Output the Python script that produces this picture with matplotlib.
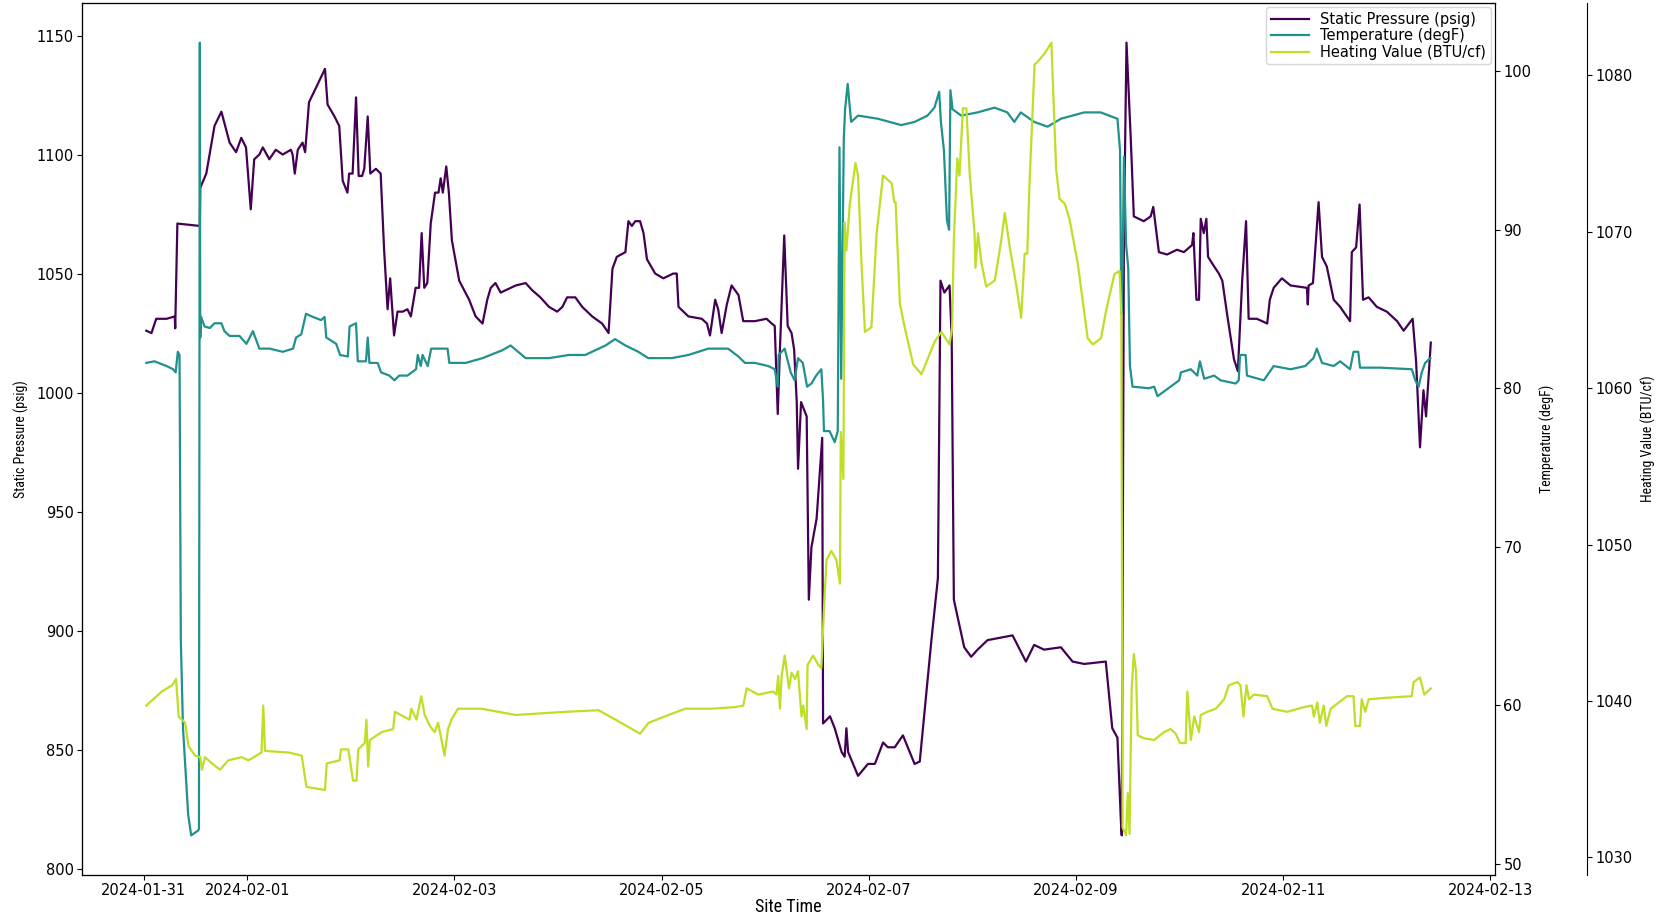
import numpy as np
import pandas as pd
import matplotlib
matplotlib.use("Agg")
import matplotlib.pyplot as plt
from matplotlib import font_manager

# hours after 2024-01-31 00:00 and the readings at those times
p_hours = [0.6, 1.8, 2.9, 5.3, 7.2, 7.3, 7.8, 13.0, 13.1, 14.5, 16.4, 18.0, 19.9, 21.4, 22.6, 23.7,
           24.8, 25.6, 26.8, 27.6, 29.1, 30.6, 32.2, 34.1, 34.5, 35.0, 35.7, 36.8, 37.4, 38.3, 39.9,
           42.0, 42.6, 44.2, 45.3, 46.1, 47.2, 47.6, 48.4, 49.2, 49.8, 50.6, 51.1, 51.9, 52.5, 53.8,
           54.9, 55.7, 56.5, 57.1, 58.0, 58.8, 60.0, 61.1, 61.9, 63.0, 63.8, 64.4, 65.0, 65.7, 66.5,
           67.5, 68.3, 68.8, 69.3, 70.1, 70.7, 71.4, 73.1, 75.4, 76.9, 78.5, 79.6, 80.4, 81.5, 82.7,
           86.2, 88.5, 90.0, 91.9, 93.9, 95.8, 97.0, 98.1, 100.0, 101.6, 103.9, 106.2, 107.7, 108.6,
           109.6, 111.6, 112.3, 113.1, 113.9, 115.0, 115.8, 116.6, 118.5, 120.4, 122.7, 123.5, 123.9,
           126.2, 129.3, 130.5, 131.2, 132.4, 133.1, 133.9, 135.1, 136.2, 137.8, 138.9, 141.6, 144.3,
           145.5, 146.2, 146.9, 147.4, 148.4, 149.2, 150.1, 150.7, 151.3, 151.6, 152.3, 153.6, 154.1,
           154.7, 155.9, 157.2, 157.4, 159.0, 160.1, 161.7, 162.4, 162.8, 163.2, 165.5, 167.8, 169.4,
           171.3, 172.4, 174.0, 175.9, 178.6, 179.8, 182.5, 184.0, 184.6, 185.5, 186.7, 187.2, 187.7,
           190.1, 191.7, 193.2, 195.5, 201.3, 204.4, 206.3, 208.6, 212.5, 215.2, 217.9, 222.9, 224.4,
           225.6, 226.4, 226.6, 227.1, 227.7, 228.7, 229.4, 231.7, 233.3, 233.9, 235.2, 237.1, 239.4,
           241.0, 242.9, 243.2, 243.9, 244.5, 244.9, 245.6, 246.2, 246.6, 248.0, 249.1, 249.9, 251.0,
           252.6, 253.5, 254.5, 255.4, 256.0, 257.9, 260.3, 260.9, 261.8, 263.7, 265.7, 269.5, 269.7,
           269.9, 270.9, 272.2, 273.0, 274.1, 275.7, 277.2, 279.5, 279.9, 280.9, 281.7, 282.5, 283.8,
           285.7, 288.0, 290.4, 291.9, 294.0, 294.8, 295.7, 296.5, 297.1, 298.2]
pressure = [1026, 1025, 1031, 1031, 1032, 1027, 1071, 1070, 1086, 1092, 1112, 1118, 1105, 1101, 1107, 1103,
            1077, 1098, 1100, 1103, 1098, 1102, 1100, 1102, 1100, 1092, 1102, 1105, 1101, 1122, 1128,
            1136, 1121, 1116, 1112, 1089, 1084, 1092, 1092, 1124, 1091, 1091, 1094, 1116, 1092, 1094,
            1092, 1060, 1035, 1048, 1024, 1034, 1034, 1035, 1032, 1044, 1044, 1067, 1044, 1046, 1071,
            1084, 1084, 1090, 1084, 1095, 1084, 1064, 1047, 1039, 1032, 1029, 1039, 1044, 1046, 1042,
            1045, 1046, 1043, 1040, 1036, 1034, 1036, 1040, 1040, 1036, 1032, 1029, 1025, 1052,
            1057, 1059, 1072, 1070, 1072, 1072, 1067, 1056, 1050, 1048, 1050, 1050, 1036,
            1032, 1031, 1029, 1024, 1039, 1035, 1025, 1037, 1045, 1041, 1030, 1030, 1031,
            1029, 1028, 991, 1018, 1066, 1028, 1025, 1018, 996, 968, 996, 990, 913,
            935, 947, 981, 861, 864, 859, 849, 847, 859, 849, 839, 844, 844,
            853, 851, 851, 856, 844, 845, 896, 922, 1047, 1042, 1045, 1023, 913,
            893, 889, 892, 896, 898, 887, 894, 892, 893, 887, 886, 887, 859,
            855, 820, 814, 1067, 1147, 1106, 1074, 1072, 1074, 1078, 1059, 1058, 1060,
            1059, 1062, 1067, 1039, 1039, 1073, 1067, 1073, 1057, 1053, 1050, 1047, 1033,
            1014, 1009, 1047, 1072, 1031, 1031, 1029, 1039, 1044, 1048, 1045, 1044, 1037,
            1045, 1046, 1080, 1057, 1053, 1039, 1036, 1030, 1059, 1061, 1079, 1039, 1040,
            1036, 1034, 1030, 1026, 1031, 1013, 977, 1001, 990, 1021]

t_hours = [0.6, 2.5, 5.3, 6.8, 7.4, 7.9, 8.3, 8.6, 9.1, 10.3, 11.0, 12.6, 12.8, 13.0, 13.1, 13.3, 14.1,
           15.3, 16.4, 18.0, 18.7, 19.9, 22.2, 23.8, 25.3, 26.8, 29.2, 32.2, 34.6, 35.3, 36.5, 37.6,
           39.2, 41.1, 41.9, 42.3, 44.6, 45.5, 47.3, 47.7, 49.2, 49.6, 51.5, 51.9, 52.3, 54.2, 55.0,
           56.9, 58.1, 59.2, 61.1, 63.1, 63.5, 64.2, 64.6, 65.8, 66.6, 68.9, 70.4, 70.8, 74.6, 78.5,
           83.1, 85.0, 88.5, 93.9, 98.5, 102.3, 107.0, 109.2, 111.6, 114.6, 116.9, 122.3, 126.2, 130.8,
           135.4, 137.8, 139.3, 141.6, 144.7, 146.2, 146.9, 147.1, 148.5, 149.9, 150.8, 151.6, 152.7,
           153.7, 154.7, 155.8, 157.0, 157.4, 157.6, 158.9, 160.1, 160.8, 161.2, 161.6, 162.2, 162.5,
           163.1, 163.9, 165.5, 170.1, 175.5, 178.6, 181.6, 183.2, 184.3, 184.7, 185.4, 186.1, 186.6,
           186.9, 187.4, 189.4, 193.2, 197.1, 200.1, 201.7, 203.2, 206.3, 209.4, 212.5, 217.9, 221.7,
           225.6, 226.2, 226.5, 226.8, 227.1, 227.6, 228.1, 228.5, 229.1, 232.9, 234.1, 234.9, 237.9,
           239.9, 240.3, 242.6, 244.1, 244.7, 245.7, 248.0, 249.5, 253.0, 253.7, 254.0, 255.3, 255.6,
           259.5, 261.8, 265.7, 269.1, 271.0, 271.8, 273.0, 275.7, 277.2, 279.5, 280.3, 281.4, 281.8,
           286.5, 293.8, 294.6, 295.4, 296.1, 296.9, 298.1]
temperature = [81.6, 81.7, 81.4, 81.2, 81.0, 82.3, 82.1, 64.1, 58.6, 53.1, 51.8, 52.1, 52.2, 101.8, 83.2, 84.5, 83.9,
               83.8, 84.1, 84.1, 83.6, 83.3, 83.3, 82.8, 83.6, 82.5, 82.5, 82.3, 82.5, 83.2, 83.4, 84.7,
               84.5, 84.3, 84.5, 83.2, 82.8, 82.1, 82.0, 83.9, 84.1, 81.7, 81.7, 83.2, 81.6, 81.6, 81.0,
               80.8, 80.5, 80.8, 80.8, 81.2, 82.1, 81.4, 82.1, 81.4, 82.5, 82.5, 82.5, 81.6, 81.6, 81.9,
               82.4, 82.7, 81.9, 81.9, 82.1, 82.1, 82.7, 83.1, 82.7, 82.3, 81.9, 81.9, 82.1, 82.5,
               82.5, 82.0, 81.6, 81.6, 81.4, 81.2, 80.1, 82.1, 82.5, 81.0, 80.5, 81.9, 81.6,
               80.1, 80.3, 80.8, 81.2, 79.2, 77.3, 77.3, 76.6, 77.3, 95.2, 80.6, 95.7, 97.6,
               99.2, 96.8, 97.2, 97.0, 96.6, 96.8, 97.2, 97.7, 98.7, 96.8, 95.0, 90.6, 90.0,
               98.8, 97.6, 97.2, 97.4, 97.7, 97.4, 96.8, 97.4, 96.8, 96.5, 97.0, 97.4, 97.4,
               97.0, 95.0, 84.7, 87.6, 94.6, 89.1, 87.6, 81.4, 80.1, 80.0, 80.1, 79.5, 80.1,
               80.5, 81.0, 81.2, 80.8, 81.7, 80.6, 80.8, 80.5, 80.3, 80.5, 82.1, 82.1, 80.8,
               80.5, 81.4, 81.2, 81.4, 81.9, 82.5, 81.6, 81.4, 81.7, 81.2, 82.3, 82.3, 81.3,
               81.3, 81.2, 80.5, 80.1, 81.0, 81.6, 81.9]

h_hours = [0.6, 4.2, 6.6, 7.5, 8.1, 9.6, 10.4, 11.9, 13.1, 13.5, 14.2, 15.8, 17.7, 19.6, 22.7, 24.3, 27.3,
           27.7, 28.1, 33.5, 36.6, 37.7, 42.0, 42.4, 45.4, 45.7, 47.4, 48.5, 49.3, 49.7, 51.2, 51.6,
           52.0, 52.4, 55.1, 57.8, 58.2, 61.6, 62.0, 63.2, 64.3, 65.1, 66.3, 67.4, 68.2, 69.0, 69.7,
           70.5, 71.3, 72.8, 78.2, 86.2, 97.7, 105.4, 109.3, 113.1, 115.0, 117.0, 121.6, 125.5, 131.6,
           137.0, 138.9, 139.7, 142.4, 145.8, 146.6, 147.0, 147.4, 147.8, 148.5, 149.5, 150.1, 150.9,
           151.6, 152.4, 152.8, 153.6, 153.8, 155.1, 156.3, 157.0, 157.7, 158.2, 159.3, 160.5, 161.3,
           161.5, 162.1, 162.4, 162.8, 163.6, 164.9, 165.5, 166.3, 167.1, 168.6, 169.8, 171.3, 173.3,
           173.9, 174.2, 175.2, 176.3, 178.3, 180.2, 183.3, 184.8, 186.7, 187.3, 187.7, 188.5, 189.0,
           189.8, 190.6, 191.4, 192.5, 192.7, 193.3, 194.1, 195.2, 197.2, 198.7, 199.5, 200.6, 202.2,
           203.3, 204.1, 204.7, 205.2, 206.4, 207.2, 208.7, 210.3, 210.7, 211.4, 212.2, 213.4, 214.5,
           216.4, 218.7, 219.9, 221.8, 223.0, 224.9, 226.1, 226.5, 226.8, 227.6, 228.0, 228.4, 228.9,
           229.4, 229.9, 230.3, 231.8, 234.1, 236.4, 237.9, 239.1, 240.1, 241.4, 241.8, 242.6, 243.4,
           244.5, 244.9, 246.4, 248.4, 250.3, 251.4, 253.4, 254.1, 254.8, 255.5, 256.1, 257.2, 260.3,
           261.5, 264.9, 268.8, 270.7, 271.1, 271.9, 272.5, 273.4, 274.0, 275.0, 278.8, 280.3, 280.7,
           281.8, 282.2, 283.0, 283.8, 288.0, 293.8, 294.2, 295.7, 296.7, 298.2]
heating = [1039.7, 1040.6, 1041.0, 1041.4, 1039.0, 1038.6, 1037.1, 1036.5, 1036.4, 1035.6, 1036.4, 1036.0,
           1035.6, 1036.2, 1036.4, 1036.2, 1036.7, 1039.7, 1036.8, 1036.7, 1036.5, 1034.5, 1034.3, 1036.0,
           1036.2, 1036.9, 1036.9, 1034.9, 1034.9, 1036.9, 1037.3, 1038.8, 1035.8, 1037.5, 1038.0, 1038.2,
           1039.3, 1038.8, 1039.5, 1038.8, 1040.3, 1039.1, 1038.4, 1038.0, 1038.6, 1037.5, 1036.5, 1038.2,
           1038.8, 1039.5, 1039.5, 1039.1, 1039.3, 1039.4, 1038.8, 1038.2, 1037.9, 1038.6, 1039.1, 1039.5,
           1039.5, 1039.6, 1039.7, 1040.8, 1040.4, 1040.6, 1040.4, 1041.6, 1039.5, 1041.6, 1042.9, 1040.8,
           1041.8, 1041.4, 1041.9, 1039.0, 1039.7, 1038.2, 1042.3, 1042.9, 1042.3, 1042.1, 1046.4, 1049.0,
           1049.6, 1049.0, 1047.5, 1057.2, 1054.2, 1070.6, 1068.8, 1071.8, 1074.4, 1073.6, 1068.0, 1063.6,
           1063.9, 1069.9, 1073.6, 1073.1, 1071.9, 1071.9, 1065.4, 1063.9, 1061.5, 1060.9, 1063.0, 1063.6,
           1062.8, 1063.9, 1069.5, 1074.7, 1073.6, 1077.9, 1077.9, 1073.6, 1069.9, 1067.7, 1069.9, 1068.0,
           1066.5, 1066.9, 1069.5, 1071.2, 1069.1, 1066.5, 1064.5, 1068.6, 1068.6, 1072.9, 1080.7, 1080.9,
           1081.4, 1082.1, 1079.2, 1074.0, 1072.1, 1071.8, 1070.8, 1068.0, 1063.2, 1062.8, 1063.2, 1065.0,
           1067.3, 1067.5, 1064.7, 1031.9, 1031.4, 1034.1, 1031.5, 1040.8, 1043.0, 1041.9, 1037.8, 1037.6,
           1037.5, 1038.0, 1038.2, 1037.9, 1037.3, 1037.3, 1040.6, 1037.5, 1039.0, 1038.0, 1039.1, 1039.3,
           1039.5, 1040.1, 1041.0, 1041.2, 1041.0, 1039.0, 1041.0, 1040.1, 1040.4, 1040.3, 1039.5, 1039.3,
           1039.6, 1039.7, 1039.0, 1039.9, 1038.6, 1039.7, 1038.4, 1039.5, 1040.3, 1040.3, 1038.4, 1038.4,
           1040.1, 1039.3, 1040.1, 1040.2, 1040.3, 1041.2, 1041.5, 1040.4, 1040.8]

start = pd.Timestamp("2024-01-31")
p_time = start + pd.to_timedelta(p_hours, unit="h")
t_time = start + pd.to_timedelta(t_hours, unit="h")
h_time = start + pd.to_timedelta(h_hours, unit="h")

colors = ["#440154", "#21918c", "#bddf26"]

# narrow face for the axis titles, whichever one is installed
installed = {f.name for f in font_manager.fontManager.ttflist}
narrow = [n for n in ["Liberation Sans Narrow", "Roboto Condensed", "Open Sans Condensed",
                      "Noto Sans Condensed", "DejaVu Sans Condensed", "Arial Narrow"] if n in installed]
label_family = narrow[0] if narrow else "DejaVu Sans"

fig, ax1 = plt.subplots(figsize=(16.58, 9.14), dpi=100)
fig.subplots_adjust(left=0.0495, right=0.9017, bottom=0.0427, top=0.9967)

l1, = ax1.plot(p_time, pressure, color=colors[0], lw=1.6, label="Static Pressure (psig)")
ax1.set_ylabel("Static Pressure (psig)", family=label_family, fontsize=10, labelpad=5)
ax1.set_xlabel("Site Time", family=label_family, fontsize=13, labelpad=0)

ax2 = ax1.twinx()
l2, = ax2.plot(t_time, temperature, color=colors[1], lw=1.6, label="Temperature (degF)")
ax2.set_ylabel("Temperature (degF)", family=label_family, fontsize=10, labelpad=6)

ax3 = ax1.twinx()
ax3.spines["right"].set_position(("axes", 1.065))
l3, = ax3.plot(h_time, heating, color=colors[2], lw=1.6, label="Heating Value (BTU/cf)")
ax3.set_ylabel("Heating Value (BTU/cf)", family=label_family, fontsize=10, labelpad=6)

for ax in (ax1, ax2, ax3):
    ax.tick_params(labelsize=10.5, pad=2.5)

ax3.legend(handles=[l1, l2, l3], loc="upper right", fontsize=10.5,
           labelspacing=0.1, borderpad=0.3, handlelength=2.6, borderaxespad=0.3)

fig.savefig("out.png", dpi=100)
